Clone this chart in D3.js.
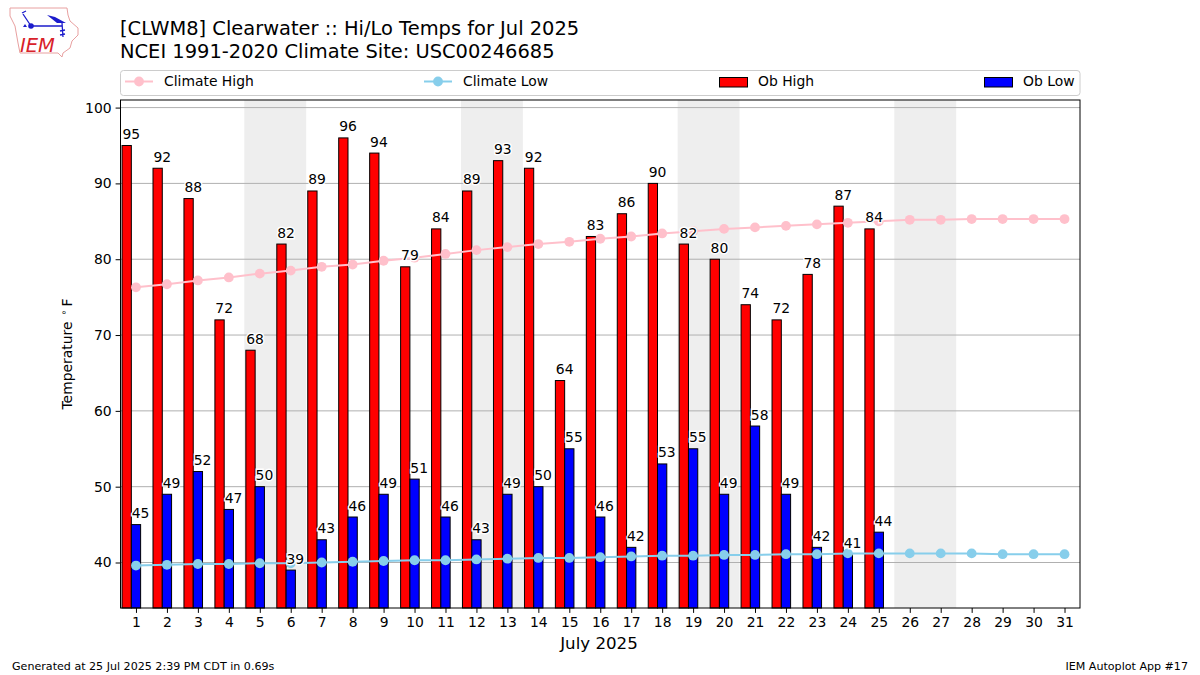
<!DOCTYPE html>
<head>
<meta charset="utf-8">
<title>CLWM8 Hi/Lo Temps</title>
<style>
  html, body { margin: 0; padding: 0; background: #fff; }
  svg { display: block; }
  text { font-family: "DejaVu Sans", sans-serif; fill: #000; }
</style>
</head>
<body>
<script src="https://d3js.org/d3.v7.min.js"></script>
<script>
// values
let days = d3.range(1, 32);
let obHigh = [95,92,88,72,68,82,89,96,94,79,84,89,93,92,64,83,86,90,82,80,74,72,78,87,84];
let obLow = [45,49,52,47,50,39,43,46,49,51,46,43,49,50,55,46,42,53,55,49,58,49,42,41,44];
let climateHigh = [76.3,76.7,77.2,77.6,78.1,78.5,79.0,79.3,79.8,80.2,80.7,81.2,81.6,82.0,82.3,82.7,83.0,83.4,83.7,84.0,84.2,84.4,84.6,84.8,85.0,85.2,85.2,85.3,85.3,85.3,85.3];
let climateLow = [39.6,39.7,39.8,39.8,39.9,39.9,40.0,40.1,40.2,40.3,40.3,40.4,40.5,40.6,40.6,40.7,40.8,40.9,40.9,41.0,41.0,41.1,41.1,41.2,41.2,41.2,41.2,41.2,41.1,41.1,41.1];
let weekends = [[5,6],[12,13],[19,20],[26,27]];
let yTicks = [40,50,60,70,80,90,100];

let width = 1200, height = 675;
let left = 120.5, right = 1080, top_ = 100, bottom = 608;

let svg = d3.select("body").append("svg")
  .attr("width", width)
  .attr("height", height);

let x = d3.scaleLinear().domain([0.5, 31.5]).range([left, right]);
let y = d3.scaleLinear().domain([34, 101]).range([bottom, top_]);

// weekend bands
svg.selectAll(null)
  .data(weekends)
  .join("rect")
  .attr("x", d => x(d[0] - 0.5))
  .attr("width", d => x(d[1] + 0.5) - x(d[0] - 0.5))
  .attr("y", top_)
  .attr("height", bottom - top_)
  .attr("fill", "#eeeeee");

// grid
svg.selectAll(null)
  .data(yTicks)
  .join("line")
  .attr("x1", left).attr("x2", right)
  .attr("y1", d => y(d)).attr("y2", d => y(d))
  .attr("stroke", "#b0b0b0")
  .attr("stroke-width", 1);

// bars
function addBars(values, offset, color) {
  svg.selectAll(null)
    .data(values)
    .join("rect")
    .attr("x", (d, i) => x(days[i] + offset))
    .attr("width", x(1.3) - x(1))
    .attr("y", d => y(d))
    .attr("height", d => bottom - y(d))
    .attr("fill", color)
    .attr("stroke", "#000")
    .attr("stroke-width", 1);
}
addBars(obHigh, -0.45, "red");
addBars(obLow, -0.15, "blue");

// climate lines
function addLine(values, color) {
  svg.append("path")
    .datum(values)
    .attr("fill", "none")
    .attr("stroke", color)
    .attr("stroke-width", 2)
    .attr("d", d3.line().x((d, i) => x(days[i])).y(d => y(d)));
  svg.selectAll(null)
    .data(values)
    .join("circle")
    .attr("cx", (d, i) => x(days[i]))
    .attr("cy", d => y(d))
    .attr("r", 4.9)
    .attr("fill", color);
}
addLine(climateHigh, "pink");
addLine(climateLow, "skyblue");

// value labels sit on the right edge of each bar, white halo
function addLabels(values, offset) {
  svg.selectAll(null)
    .data(values)
    .join("text")
    .attr("x", (d, i) => x(days[i] + offset + 0.3))
    .attr("y", d => y(d) - 6.5)
    .attr("text-anchor", "middle")
    .attr("font-size", 13.9)
    .attr("stroke", "#fff")
    .attr("stroke-width", 2.8)
    .attr("paint-order", "stroke")
    .text(d => d);
}
addLabels(obHigh, -0.45);
addLabels(obLow, -0.15);

// frame
svg.append("rect")
  .attr("x", left).attr("y", top_)
  .attr("width", right - left).attr("height", bottom - top_)
  .attr("fill", "none").attr("stroke", "#000").attr("stroke-width", 1);

// axes
let xAxis = svg.append("g")
  .attr("transform", `translate(0,${bottom})`)
  .call(d3.axisBottom(x).tickValues(days).tickSize(4.9).tickPadding(4).tickFormat(d3.format("d")));
let yAxis = svg.append("g")
  .attr("transform", `translate(${left},0)`)
  .call(d3.axisLeft(y).tickValues(yTicks).tickSize(4.9).tickPadding(4));
[xAxis, yAxis].forEach(a => {
  a.select(".domain").remove();
  a.selectAll("text").attr("font-size", 13.9).attr("font-family", "DejaVu Sans");
  a.selectAll("line").attr("stroke", "#000");
});

svg.append("text")
  .attr("x", 599).attr("y", 649)
  .attr("text-anchor", "middle").attr("font-size", 16.67)
  .text("July 2025");

let yLabel = svg.append("text")
  .attr("transform", "translate(72,354) rotate(-90)")
  .attr("text-anchor", "middle").attr("font-size", 13.9);
yLabel.append("tspan").text("Temperature");
yLabel.append("tspan").attr("dx", 6).attr("dy", -5).attr("font-size", 9.7).text("∘");
yLabel.append("tspan").attr("dx", 3).attr("dy", 5).text("F");

// title
svg.append("text").attr("x", 120).attr("y", 35).attr("font-size", 19.46)
  .text("[CLWM8] Clearwater :: Hi/Lo Temps for Jul 2025");
svg.append("text").attr("x", 120).attr("y", 57.5).attr("font-size", 19.46)
  .text("NCEI 1991-2020 Climate Site: USC00246685");

// footer
svg.append("text").attr("x", 12).attr("y", 670).attr("font-size", 11.1)
  .text("Generated at 25 Jul 2025 2:39 PM CDT in 0.69s");
svg.append("text").attr("x", 1188).attr("y", 670).attr("text-anchor", "end").attr("font-size", 11.1)
  .text("IEM Autoplot App #17");

// legend
svg.append("rect")
  .attr("x", 120.5).attr("y", 70.5).attr("width", 959.5).attr("height", 25)
  .attr("rx", 3).attr("fill", "#fff").attr("stroke", "#cccccc");
let legendLines = [
  {label: "Climate High", color: "pink", x0: 125},
  {label: "Climate Low", color: "skyblue", x0: 424}
];
legendLines.forEach(d => {
  svg.append("line").attr("x1", d.x0).attr("x2", d.x0 + 28).attr("y1", 81.5).attr("y2", 81.5)
    .attr("stroke", d.color).attr("stroke-width", 2);
  svg.append("circle").attr("cx", d.x0 + 14).attr("cy", 81.5).attr("r", 4.9).attr("fill", d.color);
  svg.append("text").attr("x", d.x0 + 39).attr("y", 86).attr("font-size", 13.9).text(d.label);
});
let legendBars = [
  {label: "Ob High", color: "red", x0: 719},
  {label: "Ob Low", color: "blue", x0: 984}
];
legendBars.forEach(d => {
  svg.append("rect").attr("x", d.x0 + 0.5).attr("y", 77.5).attr("width", 28).attr("height", 9.5)
    .attr("fill", d.color).attr("stroke", "#000");
  svg.append("text").attr("x", d.x0 + 39).attr("y", 86).attr("font-size", 13.9).text(d.label);
});

// logo, rough trace of the state outline
let logo = svg.append("g");
logo.append("path")
  .attr("d", "M10,8 L67,8 L68,15 L70,21 L78,28 L78,35 L72,41 L70,48 L63,53 L62,57 L58,53 L20,53 L18,43 L15,26 L10,16 Z")
  .attr("fill", "#fff").attr("stroke", "#e8a0a0").attr("stroke-width", 1);
logo.append("text")
  .attr("x", 37.5).attr("y", 52).attr("text-anchor", "middle")
  .attr("font-family", "Liberation Serif").attr("font-style", "italic")
  .attr("font-size", 19.5).style("fill", "#d8222a")
  .text("IEM");
logo.append("path")
  .attr("d", "M31,26 L62,26 M62,23 L63,37 M31,26 L23,14 M22,13 L26,11 M60,31 L65,30 M60,35 L65,34")
  .attr("fill", "none").attr("stroke", "#1c1ccc").attr("stroke-width", 1.3);
logo.append("path")
  .attr("d", "M47,15 L55,17 L66,23 L57,23 Z M23,27 L25,24 L27,27 Z")
  .attr("fill", "#1c1ccc");
logo.append("circle").attr("cx", 31).attr("cy", 26).attr("r", 2.8).attr("fill", "#1c1ccc");
</script>
</body>
